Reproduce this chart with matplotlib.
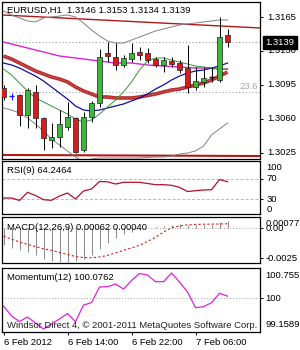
import matplotlib
matplotlib.use("Agg")
import matplotlib.pyplot as plt
import numpy as np

# ---------------- data ----------------
opens  = [1.3092, 1.3084, 1.3085, 1.3064, 1.3088, 1.3061, 1.3038, 1.3041, 1.3052, 1.3061,
          1.3028, 1.3062, 1.3076, 1.3128, 1.3124, 1.3116, 1.3122, 1.3129, 1.3128, 1.3122,
          1.3116, 1.3120, 1.3118, 1.3112, 1.3093, 1.3098, 1.3103, 1.3100, 1.3146]
highs  = [1.3095, 1.3087, 1.3086, 1.3092, 1.3095, 1.3062, 1.3056, 1.3069, 1.3077, 1.3062,
          1.3067, 1.3078, 1.3132, 1.3139, 1.3138, 1.3126, 1.3138, 1.3134, 1.3133, 1.3124,
          1.3124, 1.3124, 1.3121, 1.3136, 1.3113, 1.3113, 1.3113, 1.3165, 1.3153]
lows   = [1.3080, 1.3080, 1.3053, 1.3051, 1.3051, 1.3028, 1.3030, 1.3031, 1.3049, 1.3025,
          1.3026, 1.3057, 1.3072, 1.3119, 1.3110, 1.3113, 1.3119, 1.3121, 1.3118, 1.3114,
          1.3108, 1.3114, 1.3107, 1.3087, 1.3090, 1.3093, 1.3098, 1.3098, 1.3134]
closes = [1.3083, 1.3084, 1.3064, 1.3090, 1.3061, 1.3040, 1.3041, 1.3055, 1.3062, 1.3026,
          1.3062, 1.3076, 1.3124, 1.3125, 1.3116, 1.3123, 1.3128, 1.3126, 1.3121, 1.3116,
          1.3121, 1.3117, 1.3110, 1.3093, 1.3099, 1.3102, 1.3103, 1.3144, 1.3139]

band_upper = [1.31712, 1.31671, 1.31640, 1.31609, 1.31599, 1.31640, 1.31650, 1.31660, 1.31671, 1.31650,
              1.31588, 1.31516, 1.31454, 1.31403, 1.31382, 1.31382, 1.31413, 1.31444, 1.31475, 1.31506,
              1.31526, 1.31547, 1.31568, 1.31578, 1.31588, 1.31599, 1.31609, 1.31619, 1.31619]
band_lower = [1.30713, 1.30692, 1.30661, 1.30610, 1.30548, 1.30476, 1.30393, 1.30332, 1.30270, 1.30208,
              1.30156, 1.30187, 1.30198, 1.30198, 1.30198, 1.30198, 1.30198, 1.30198, 1.30203, 1.30208,
              1.30208, 1.30218, 1.30239, 1.30249, 1.30270, 1.30321, 1.30435, 1.30496, 1.30558]
ma_magenta = [1.31392, 1.31372, 1.31351, 1.31331, 1.31310, 1.31290, 1.31269, 1.31248, 1.31238, 1.31228,
              1.31217, 1.31207, 1.31197, 1.31186, 1.31176, 1.31176, 1.31176, 1.31166, 1.31156, 1.31150,
              1.31145, 1.31140, 1.31135, 1.31130, 1.31125, 1.31125, 1.31120, 1.31114, 1.31114]
ma_red     = [1.31248, 1.31217, 1.31176, 1.31135, 1.31094, 1.31063, 1.31032, 1.31011, 1.30981, 1.30929,
              1.30888, 1.30857, 1.30826, 1.30826, 1.30816, 1.30816, 1.30816, 1.30826, 1.30841, 1.30857,
              1.30878, 1.30898, 1.30908, 1.30929, 1.30950, 1.30970, 1.31001, 1.31042, 1.31083]
ma_blue    = [1.31176, 1.31156, 1.31125, 1.31083, 1.31042, 1.30991, 1.30929, 1.30867, 1.30805, 1.30733,
              1.30692, 1.30682, 1.30692, 1.30713, 1.30733, 1.30754, 1.30785, 1.30816, 1.30857, 1.30908,
              1.30950, 1.31001, 1.31042, 1.31073, 1.31094, 1.31104, 1.31125, 1.31145, 1.31176]
ma_green   = [1.31114, 1.31053, 1.30970, 1.30888, 1.30816, 1.30775, 1.30733, 1.30692, 1.30651, 1.30599,
              1.30568, 1.30589, 1.30651, 1.30723, 1.30795, 1.30878, 1.30981, 1.31104, 1.31197, 1.31228,
              1.31228, 1.31207, 1.31186, 1.31166, 1.31145, 1.31135, 1.31125, 1.31114, 1.31114]

trend_top = [1.31671, 1.31537]      # left edge -> right edge
trend_bottom = [1.30229, 1.30218]
fib_level = 1.30878
fib_label = "23.6"

price_ticks = [1.3165, 1.3130, 1.3095, 1.3060, 1.3025]

rsi = [32.6, 32.6, 27.8, 43.6, 37.4, 29.3, 28.1, 36.5, 42.3, 30.7,
       46.2, 50.0, 64.6, 64.0, 59.7, 63.0, 63.0, 63.0, 60.7, 58.4,
       58.4, 57.2, 53.3, 45.2, 46.7, 48.1, 48.7, 68.4, 64.2464]
rsi_levels = [70, 30]
rsi_ticks = [100, 70, 30, 0]

macd = [-0.00142, -0.00168, -0.00185, -0.00203, -0.00228, -0.00254, -0.00272, -0.00280, -0.00280, -0.00272,
        -0.00254, -0.00228, -0.00177, -0.00125, -0.00082, -0.00047, -0.00030, -0.00012, 0.00005, 0.00015,
        0.00025, 0.00032, 0.00035, 0.00030, 0.00028, 0.00030, 0.00033, 0.00055, 0.00062]
signal = [-0.00065, -0.00091, -0.00114, -0.00134, -0.00153, -0.00172, -0.00185, -0.00203, -0.00220, -0.00237,
          -0.00246, -0.00248, -0.00241, -0.00228, -0.00207, -0.00185, -0.00164, -0.00142, -0.00110, -0.00075,
          -0.00030, 0.00005, 0.00022, 0.00030, 0.00034, 0.00036, 0.00037, 0.00038, 0.00040]
macd_tick_labels = ["0.00077", "0.00", "-0.0025"]
macd_tick_values = [0.00077, 0.0, -0.0025]

momentum = [99.756, 99.430, 99.251, 99.397, 99.202, 99.007, 99.169, 99.332, 99.511, 99.244,
            99.788, 99.863, 100.375, 100.384, 100.472, 100.309, 100.586, 100.814, 100.765, 100.547,
            100.547, 100.831, 100.537, 100.212, 99.700, 99.733, 99.863, 100.169, 100.0762]
mom_ticks = [100.7557, 100.0, 99.1589]
mom_tick_labels = ["100.7557", "100", "99.1589"]

time_tick_idx = [0, 8, 16, 24]
time_labels = ["6 Feb 2012", "6 Feb 14:00", "6 Feb 22:00", "7 Feb 06:00"]

symbol = "EURUSD,H1"
footer = "Windsor Direct 4, \u00a9 2001-2011 MetaQuotes Software Corp."

# ---------------- figure ----------------
W, H = 300, 350
plt.rcParams['font.family'] = ['Liberation Sans', 'DejaVu Sans']
FS = 6.8
fig = plt.figure(figsize=(W / 100, H / 100), dpi=100)
fig.patch.set_facecolor('white')


def rect(x0, y0, x1, y1):
    return [x0 / W, 1 - y1 / H, (x1 - x0) / W, (y1 - y0) / H]


XL = (-0.1875, 32.06)
n = len(closes)
xs = np.arange(n)

ax = fig.add_axes(rect(2, 2, 260, 159))
ax_rsi = fig.add_axes(rect(2, 161, 260, 214))
ax_macd = fig.add_axes(rect(2, 217, 260, 263))
ax_mom = fig.add_axes(rect(2, 268, 260, 332))

for a in (ax, ax_rsi, ax_macd, ax_mom):
    a.set_xlim(*XL)
    for s in a.spines.values():
        s.set_linewidth(0.9)
        s.set_color('black')
    a.tick_params(axis='both', which='both', length=0, labelleft=False, labelbottom=False)
    a.set_xticks([])
    a.set_yticks([])

# ---- main price panel ----
ax.set_ylim(1.301874, 1.318045)
ax.axhline(closes[-1], color='#a0a0a0', lw=0.8, ls=(0, (1, 2)), zorder=1)
ax.axhline(fib_level, color='#a0a0a0', lw=0.8, ls=(0, (1, 2)), zorder=1)
ax.plot([XL[0], XL[1]], trend_top, color='#b01818', lw=1.0, zorder=2)
ax.plot([XL[0], XL[1]], trend_bottom, color='#b01818', lw=1.5, zorder=2)
ax.plot(xs, band_upper, color='#808080', lw=0.7, zorder=2)
ax.plot(xs, band_lower, color='#808080', lw=0.7, zorder=2)
ax.plot(xs, ma_red, color='#b52a2a', lw=2.6, zorder=2, solid_capstyle='butt')
ax.plot(xs, ma_red, color='#e07070', lw=0.7, ls=(0, (1, 1)), zorder=2)
ax.plot(xs, ma_magenta, color='#dd22dd', lw=1.0, zorder=3)
ax.plot(xs, ma_blue, color='#10109a', lw=0.9, zorder=3)
ax.plot(xs, ma_green, color='#2e9a2e', lw=0.7, zorder=3)

bw = 0.62
for i in range(n):
    o, h, l, c = opens[i], highs[i], lows[i], closes[i]
    if abs(c - o) < 1e-9:
        col = '#1a1aff' if i == 1 else 'black'
        ax.vlines(i, l, h, color=col, lw=0.8, zorder=4)
        ax.hlines(o, i - bw / 2, i + bw / 2, color=col, lw=1.0, zorder=4)
        continue
    ax.vlines(i, l, h, color='black', lw=0.7, zorder=4)
    fc = '#3cb83c' if c > o else '#d61c1c'
    ax.bar(i, abs(c - o), bottom=min(o, c), width=bw, color=fc,
           edgecolor='#202020', linewidth=0.5, zorder=5)

ax.text(XL[1] - 0.25, fib_level + 0.00006, fib_label, ha='right', va='bottom',
        fontsize=FS, color='#a8a8a8', zorder=6)

# right price labels
for p in price_ticks:
    ax.annotate(f"{p:.4f}", xy=(1, p), xycoords=('axes fraction', 'data'),
                xytext=(5, 0), textcoords='offset points', ha='left', va='center',
                fontsize=FS, color='black', annotation_clip=False)
    ax.annotate("", xy=(1, p), xycoords=('axes fraction', 'data'))
ax.yaxis.tick_right()
ax.set_yticks(price_ticks)
ax.tick_params(axis='y', length=2.2, width=0.7, direction='out', labelright=False)
ax.annotate(f"{closes[-1]:.4f}", xy=(1, closes[-1]), xycoords=('axes fraction', 'data'),
            xytext=(4, 0), textcoords='offset points', ha='left', va='center',
            fontsize=FS, color='white', annotation_clip=False, zorder=10,
            bbox=dict(boxstyle='square,pad=0.22', fc='black', ec='black'))

fig.text(7 / W, 1 - 10.5 / H,
         f"{symbol}  {opens[-1]:.4f} {highs[-1]:.4f} {lows[-1]:.4f} {closes[-1]:.4f}",
         ha='left', va='center', fontsize=FS, color='black')

# ---- RSI ----
ax_rsi.set_ylim(1.6, 104.3)
for lv in rsi_levels:
    ax_rsi.axhline(lv, color='#b8b8b8', lw=0.7, ls=(0, (3, 2)))
ax_rsi.plot(xs, rsi, color='#b0102a', lw=0.9)
ax_rsi.text(7 / 258 * 0 + 0.02, 0.82, f"RSI(9) {rsi[-1]:.4f}", transform=ax_rsi.transAxes,
            ha='left', va='center', fontsize=FS)
ax_rsi.yaxis.tick_right()
ax_rsi.set_yticks([70, 30])
ax_rsi.tick_params(axis='y', length=2.2, width=0.7, direction='out', labelright=False)
for v in rsi_ticks:
    va = 'center'
    yv = v
    if v == 100:
        va = 'top'
    if v == 0:
        va = 'bottom'
        yv = 1.6
    ax_rsi.annotate(f"{v}", xy=(1, yv), xycoords=('axes fraction', 'data'),
                    xytext=(4.5, 0), textcoords='offset points', ha='left', va=va,
                    fontsize=FS, annotation_clip=False)

# ---- MACD ----
ax_macd.set_ylim(-0.00292, 0.00097)
ax_macd.axhline(0, color='#a0a0a0', lw=0.7, ls=(0, (1, 2)))
ax_macd.vlines(xs, 0, macd, color='#8c8c8c', lw=0.75)
ax_macd.plot(xs, signal, color='#e01818', lw=0.8, ls=(0, (2, 2)))
ax_macd.text(0.02, (228 - 217) / (263 - 217), "", transform=ax_macd.transAxes)
ax_macd.text(0.02, 1 - (228 - 217) / (263 - 217),
             f"MACD(12,26,9) {macd[-1]:.5f} {signal[-1]:.5f}",
             transform=ax_macd.transAxes, ha='left', va='center', fontsize=FS)
ax_macd.yaxis.tick_right()
ax_macd.set_yticks([0.0, -0.0025])
ax_macd.tick_params(axis='y', length=2.2, width=0.7, direction='out', labelright=False)
for v, lab in zip(macd_tick_values, macd_tick_labels):
    va = 'top' if v > 0 else 'center'
    ax_macd.annotate(lab, xy=(1, v), xycoords=('axes fraction', 'data'),
                     xytext=(4, 0), textcoords='offset points', ha='left', va=va,
                     fontsize=FS, annotation_clip=False)

# ---- Momentum ----
ax_mom.set_ylim(98.909, 100.993)
ax_mom.axhline(100, color='#a0a0a0', lw=0.7, ls=(0, (1, 2)))
ax_mom.plot(xs, momentum, color='#dd22dd', lw=0.9)
ax_mom.text(0.02, 1 - (278 - 268) / (332 - 268), f"Momentum(12) {momentum[-1]:.4f}",
            transform=ax_mom.transAxes, ha='left', va='center', fontsize=FS)
ax_mom.yaxis.tick_right()
ax_mom.set_yticks([100])
ax_mom.tick_params(axis='y', length=2.2, width=0.7, direction='out', labelright=False)
for v, lab in zip(mom_ticks, mom_tick_labels):
    ax_mom.annotate(lab, xy=(1, v), xycoords=('axes fraction', 'data'),
                    xytext=(4, 0), textcoords='offset points', ha='left', va='center',
                    fontsize=FS, annotation_clip=False)
ax_mom.set_xticks(time_tick_idx)
ax_mom.set_xticklabels(time_labels, fontsize=FS, ha='left')
ax_mom.tick_params(axis='x', length=2.5, width=0.7, direction='out', labelbottom=True, pad=1.5)

fig.text(7 / W, 1 - 325 / H, footer, ha='left', va='center', fontsize=FS, color='#202020')

fig.savefig("out.png", dpi=100, facecolor='white')
